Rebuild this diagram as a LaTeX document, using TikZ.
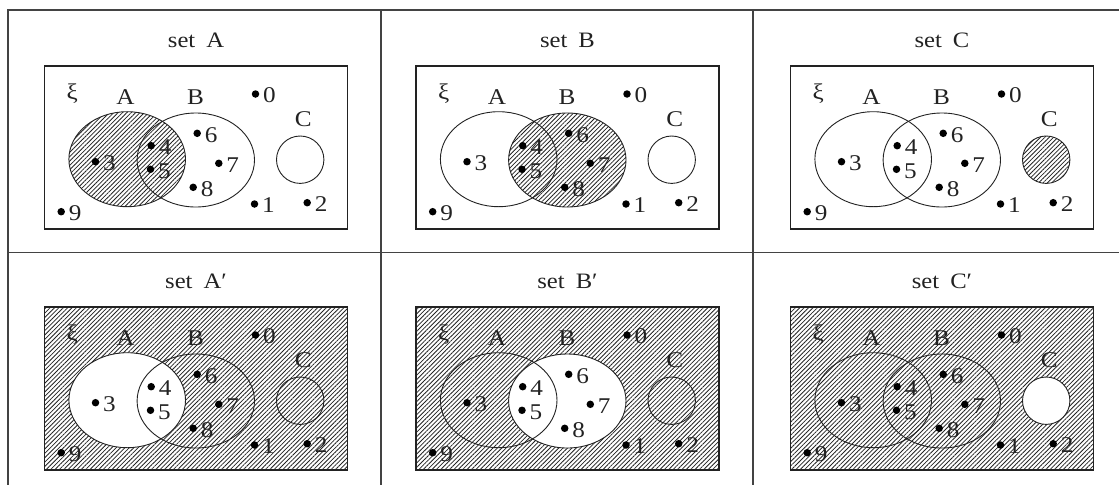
\documentclass[tikz,border=0pt]{standalone}
\usepackage{fontspec}
\setmainfont{Liberation Serif}[FakeStretch=1.12]
\usetikzlibrary{patterns.meta}
\definecolor{ink}{HTML}{222222}
\newcommand\vennpanel[5]{%
% #1 prefix, #2 x, #3 y, #4 title, #5 mode
\begin{scope}[shift={(#2,#3)}]
  \node[ttl] (#1-title) at (151.5,-26) {#4};
  \coordinate (#1-nw) at (0,0);
  \coordinate (#1-se) at (303,163);
  \ifcase#5
    \path[hatch] (82.7,93.2) ellipse [x radius=58.3, y radius=47.5];
  \or
    \path[hatch] (151.3,94) ellipse [x radius=58.7, y radius=47];
  \or
    \path[hatch] (255.7,93.7) circle [radius=23.7];
  \or
    \path[hatch, even odd rule] (0,0) rectangle (303,163) (82.7,93.2) ellipse [x radius=58.3, y radius=47.5];
  \or
    \path[hatch, even odd rule] (0,0) rectangle (303,163) (151.3,94) ellipse [x radius=58.7, y radius=47];
  \or
    \path[hatch, even odd rule] (0,0) rectangle (303,163) (255.7,93.7) circle [radius=23.7];
  \fi
  \draw[frame] (#1-nw) rectangle (#1-se);
  \draw[setline] (82.7,93.2) ellipse [x radius=58.3, y radius=47.5];
  \draw[setline] (151.3,94) ellipse [x radius=58.7, y radius=47];
  \draw[setline] (255.7,93.7) circle [radius=23.7];
  \node[lbl] (#1-xi) at (27.7,27.3) {ξ};
  \node[lbl] (#1-A) at (81,30.7) {A};
  \node[lbl] (#1-B) at (151,30.7) {B};
  \node[lbl] (#1-C) at (258.7,53) {C};
  \foreach \n/\px/\py in {0/211/28, 1/210/138, 2/262.7/136.7, 3/51/95.7, 4/106.7/79.7,
      5/106/103.3, 6/152.7/67.3, 7/174.3/97.3, 8/148.7/121.3, 9/16.7/145.7}{
    \node[dot] (#1-d\n) at (\px,\py) {};
    \node[lbl, anchor=west] (#1-n\n) at ([xshift=3.5pt,yshift=-1.5pt]#1-d\n.east) {\n};
  }
\end{scope}}
\begin{document}
\begin{tikzpicture}[x=1pt,y=-1pt,
  hatch/.style={pattern={Lines[angle=45,distance=3.1pt,line width=0.8pt]}, pattern color=ink},
  frame/.style={draw=ink, line width=1.4pt},
  setline/.style={draw=ink, line width=0.9pt},
  grid/.style={draw=ink!85, line width=1.3pt},
  lbl/.style={font=\fontsize{22.5}{22.5}\selectfont, inner sep=0pt, text=ink},
  ttl/.style={font=\fontsize{22}{22}\selectfont, inner sep=0pt, text=ink},
  dot/.style={circle, fill=black, inner sep=0pt, minimum size=7.5pt}]
\useasboundingbox (0,0) rectangle (1119,485);
\coordinate (t-nw) at (8,10);
\coordinate (t-ne) at (1119,10);
\coordinate (t-sw) at (8,485);
\coordinate (t-ml) at (8,252.5);
\coordinate (t-mr) at (1119,252.5);
\coordinate (t-c1t) at (381,10);
\coordinate (t-c1b) at (381,485);
\coordinate (t-c2t) at (753,10);
\coordinate (t-c2b) at (753,485);
\draw[grid] (t-ne) -- (t-nw) -- (t-sw);
\draw[grid] (t-ml) -- (t-mr);
\draw[grid] (t-c1t) -- (t-c1b);
\draw[grid] (t-c2t) -- (t-c2b);
\vennpanel{pa}{44.5}{66}{set\hspace{0.5em}A}{0}
\vennpanel{pb}{416}{66}{set\hspace{0.5em}B}{1}
\vennpanel{pc}{790.5}{66}{set\hspace{0.5em}C}{2}
\vennpanel{qa}{44.5}{307}{set\hspace{0.5em}A′}{3}
\vennpanel{qb}{416}{307}{set\hspace{0.5em}B′}{4}
\vennpanel{qc}{790.5}{307}{set\hspace{0.5em}C′}{5}
\end{tikzpicture}
\end{document}
